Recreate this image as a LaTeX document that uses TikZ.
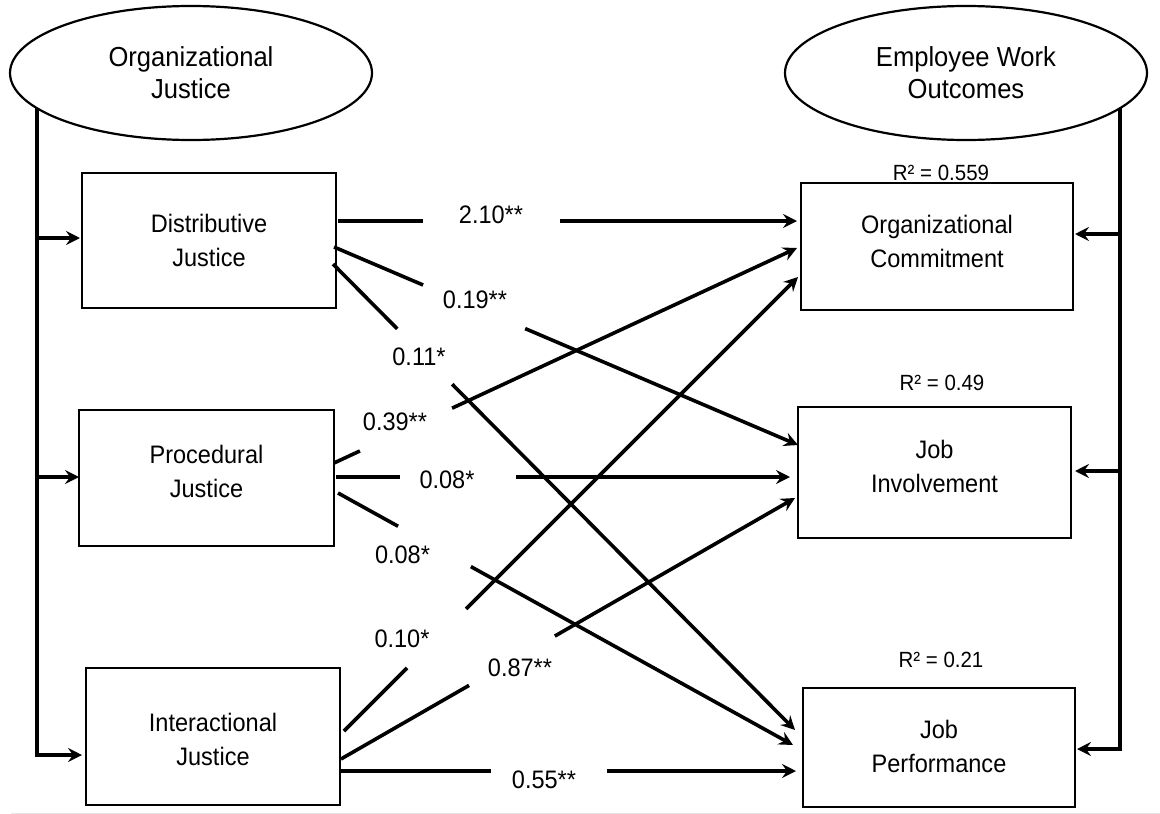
\documentclass[tikz,border=0pt]{standalone}
\usepackage{fontspec}
\setmainfont{Liberation Sans}[FakeStretch=0.93]
\usetikzlibrary{arrows.meta,calc,shapes.geometric}
\newcommand{\gapconn}[4]{%
  \draw[conn] (#1) -- ($(#1)!#3!(#2)$);
  \draw[conn,tip] ($(#1)!#4!(#2)$) -- (#2);}
\begin{document}
\begin{tikzpicture}[x=1pt,y=-1pt,
  box/.style={draw, line width=2.6pt, rectangle, outer sep=0pt, inner sep=0pt},
  oval/.style={draw, line width=2.2pt, ellipse, outer sep=0pt, inner sep=0pt,
    align=center, font=\fontsize{27.5}{32}\selectfont},
  boxtext/.style={align=center, font=\fontsize{25.3}{34}\selectfont, inner sep=0pt},
  coef/.style={font=\fontsize{25.3}{28}\selectfont, inner sep=0pt, anchor=base},
  rsq/.style={font=\fontsize{22}{25}\selectfont, inner sep=0pt, anchor=base},
  conn/.style={line width=3.6pt},
  tip/.style={-{Stealth[length=14pt,width=14pt,inset=5pt]}},
  bracket/.style={line width=4pt},
]
\useasboundingbox (0,0) rectangle (1160,814);
\draw[black!10, line width=1pt] (11,813) -- (1160,813);

% latent constructs
\node[oval, minimum width=362pt, minimum height=134pt] (OJ) at (191,73) {Organizational\\Justice};
\node[oval, minimum width=362pt, minimum height=134pt] (EW) at (966,73) {Employee Work\\Outcomes};

% boxes
\node[box, minimum width=254pt, minimum height=135pt] (D) at (209,240.5) {};
\node[box, minimum width=255pt, minimum height=136pt] (P) at (206.5,478) {};
\node[box, minimum width=254pt, minimum height=137pt] (I) at (213,736.5) {};
\node[box, minimum width=272pt, minimum height=127pt] (OC) at (937,246.5) {};
\node[box, minimum width=273pt, minimum height=131pt] (JI) at (934.5,472.5) {};
\node[box, minimum width=272pt, minimum height=119pt] (JP) at (939,747.5) {};

\node[boxtext] (Dt) at (209,240.4) {Distributive\\Justice};
\node[boxtext] (Pt) at (206.5,471.4) {Procedural\\Justice};
\node[boxtext] (It) at (213,739.4) {Interactional\\Justice};
\node[boxtext] (OCt) at (937,241) {Organizational\\Commitment};
\node[boxtext] (JIt) at (934.5,466) {Job\\Involvement};
\node[boxtext] (JPt) at (939,746.2) {Job\\Performance};

% R squared
\node[rsq] (r1) at (941,180) {R² = 0.559};
\node[rsq] (r2) at (942,390.5) {R² = 0.49};
\node[rsq] (r3) at (941,667.5) {R² = 0.21};

% connector end points
\coordinate (s1) at ($(D.north east)+(2,48)$);
\coordinate (s2) at ($(D.north east)+(-2,74)$);
\coordinate (s3) at ($(D.north east)+(-3,91)$);
\coordinate (s4) at ($(P.north east)+(0,53)$);
\coordinate (s5) at ($(P.north east)+(2,67)$);
\coordinate (s6) at ($(P.north east)+(4,83)$);
\coordinate (s7) at ($(I.north east)+(4,63)$);
\coordinate (s8) at ($(I.north east)+(1,91)$);
\coordinate (s9) at ($(I.north east)+(1,103)$);
\coordinate (e1) at ($(OC.north west)+(-4,38)$);
\coordinate (e4) at ($(OC.north west)+(-4,65)$);
\coordinate (e7) at ($(OC.north west)+(-3,94)$);
\coordinate (e2) at ($(JI.north west)+(0,38)$);
\coordinate (e5) at ($(JI.north west)+(-8,70)$);
\coordinate (e8) at ($(JI.north west)+(-3,91)$);
\coordinate (e3) at ($(JP.north west)+(-8,42)$);
\coordinate (e6) at ($(JP.north west)+(-10,57)$);
\coordinate (e9) at ($(JP.north west)+(-7,83)$);

% paths with gaps for coefficients
\gapconn{s1}{e1}{0.185}{0.484}
\gapconn{s2}{e2}{0.192}{0.412}
\gapconn{s3}{e3}{0.139}{0.258}
\gapconn{s4}{e4}{0.056}{0.255}
\gapconn{s5}{e5}{0.141}{0.396}
\gapconn{s6}{e6}{0.132}{0.292}
\gapconn{s7}{e7}{0.139}{0.269}
\gapconn{s8}{e8}{0.282}{0.471}
\gapconn{s9}{e9}{0.330}{0.585}

\node[coef] (l1) at (491,223) {2.10**};
\node[coef] (l2) at (475,308) {0.19**};
\node[coef] (l3) at (419,365) {0.11*};
\node[coef] (l4) at (395,430) {0.39**};
\node[coef] (l5) at (447,488) {0.08*};
\node[coef] (l6) at (402.5,563) {0.08*};
\node[coef] (l7) at (402,647) {0.10*};
\node[coef] (l8) at (520,676) {0.87**};
\node[coef] (l9) at (544,788) {0.55**};

% left bracket
\coordinate (ld) at ($(D.west)+(-2,-2.5)$);
\coordinate (lp) at ($(P.west)+(0,-1)$);
\coordinate (li) at ($(I.west)+(-4,18.5)$);
\draw[bracket,tip] (OJ.193) |- (li);
\draw[bracket,tip] (OJ.193 |- ld) -- (ld);
\draw[bracket,tip] (OJ.193 |- lp) -- (lp);

% right bracket
\coordinate (roc) at ($(OC.east)+(2,-12.5)$);
\coordinate (rji) at ($(JI.east)+(4,-1.5)$);
\coordinate (rjp) at ($(JP.east)+(2,1.5)$);
\draw[bracket,tip] (EW.347) |- (rjp);
\draw[bracket,tip] (EW.347 |- roc) -- (roc);
\draw[bracket,tip] (EW.347 |- rji) -- (rji);
\end{tikzpicture}
\end{document}
